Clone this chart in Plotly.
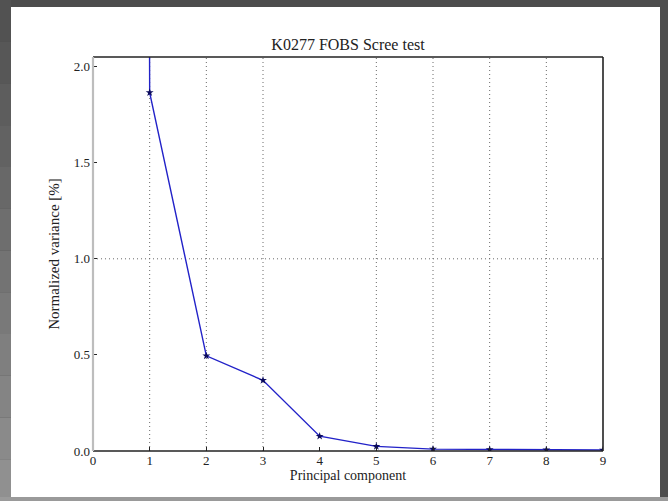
import plotly.graph_objects as go

# Scree data: share of variance per principal component
components = [0, 1, 2, 3, 4, 5, 6, 7, 8, 9]
variance_pct = [97.14, 1.865, 0.495, 0.368, 0.077, 0.024, 0.010, 0.008, 0.006, 0.005]

x_ticks = [0, 1, 2, 3, 4, 5, 6, 7, 8, 9]
y_ticks = [0.0, 0.5, 1.0, 1.5, 2.0]
y_tick_text = ["0.0", "0.5", "1.0", "1.5", "2.0"]

# dotted guide lines
grid_x = [1, 2, 3, 5, 6, 7, 8]
grid_y = [1.0]

serif = "Liberation Serif, Times New Roman, serif"

fig = go.Figure()
fig.add_trace(go.Scatter(
    x=components, y=variance_pct, mode="lines+markers",
    line=dict(color="#2222c8", width=1.4),
    marker=dict(symbol="star", size=6, color="#0a0a5c"),
    cliponaxis=True, showlegend=False,
))

shapes = []
# window background: dark frame, lighter left edge and bottom band, white canvas
for i in range(12):
    g = int(0x52 + (0x90 - 0x52) * i / 11)
    shapes.append(dict(type="rect", xref="paper", yref="paper",
                       x0=-93 / 510, x1=-82 / 510,
                       y0=(451 - 501 * (i + 1) / 12) / 394,
                       y1=(451 - 501 * i / 12) / 394,
                       fillcolor=f"rgb({g},{g},{g})", line=dict(width=0), layer="below"))
shapes.append(dict(type="rect", xref="paper", yref="paper",
                   x0=-93 / 510, x1=575 / 510, y0=-50 / 394, y1=-46 / 394,
                   fillcolor="#9a9a9a", line=dict(width=0), layer="below"))
shapes.append(dict(type="rect", xref="paper", yref="paper",
                   x0=-82 / 510, x1=567 / 510, y0=-46 / 394, y1=444 / 394,
                   fillcolor="#ffffff", line=dict(width=0), layer="below"))

for gx in grid_x:
    shapes.append(dict(type="line", xref="x", yref="paper", x0=gx, x1=gx, y0=0, y1=1,
                       line=dict(color="#6a6a6a", width=1, dash="1px,3px"), layer="below"))
for gy in grid_y:
    shapes.append(dict(type="line", xref="paper", yref="y", x0=0, x1=1, y0=gy, y1=gy,
                       line=dict(color="#6a6a6a", width=1, dash="1px,3px"), layer="below"))

# axes frame
shapes.append(dict(type="line", xref="paper", yref="paper", x0=0, x1=1, y0=0, y1=0,
                   line=dict(color="#222222", width=1.6)))
shapes.append(dict(type="line", xref="paper", yref="paper", x0=0, x1=1, y0=1, y1=1,
                   line=dict(color="#222222", width=1.6)))
shapes.append(dict(type="line", xref="paper", yref="paper", x0=1, x1=1, y0=0, y1=1,
                   line=dict(color="#222222", width=1.6)))
shapes.append(dict(type="line", xref="paper", yref="paper", x0=0, x1=0, y0=0, y1=1,
                   line=dict(color="#bdbdbd", width=2.2)))

fig.update_layout(
    width=668, height=501,
    margin=dict(l=93, r=65, t=57, b=50),
    paper_bgcolor="#4d4d4d", plot_bgcolor="rgba(0,0,0,0)",
    shapes=shapes,
    title=dict(text="K0277 FOBS Scree test", x=348 / 668, xanchor="center",
               y=1 - 44 / 501, yanchor="middle",
               font=dict(family=serif, size=16, color="#222222")),
    font=dict(family=serif, size=12, color="#222222"),
)
fig.update_xaxes(
    range=[0, 9], tickvals=x_ticks, showgrid=False, zeroline=False, showline=False,
    ticks="inside", ticklen=4, tickcolor="#222222",
    tickfont=dict(family=serif, size=13, color="#222222"),
    title=dict(text="Principal component", standoff=2,
               font=dict(family=serif, size=14, color="#222222")),
)
fig.update_yaxes(
    range=[0, 2.05], tickvals=y_ticks, ticktext=y_tick_text,
    showgrid=False, zeroline=False, showline=False,
    ticks="inside", ticklen=4, tickcolor="#222222", ticklabelstandoff=2,
    tickfont=dict(family=serif, size=13, color="#222222"),
    title=dict(text="Normalized variance [%]", standoff=10,
               font=dict(family=serif, size=15, color="#222222")),
)

fig.write_html("out.html")
